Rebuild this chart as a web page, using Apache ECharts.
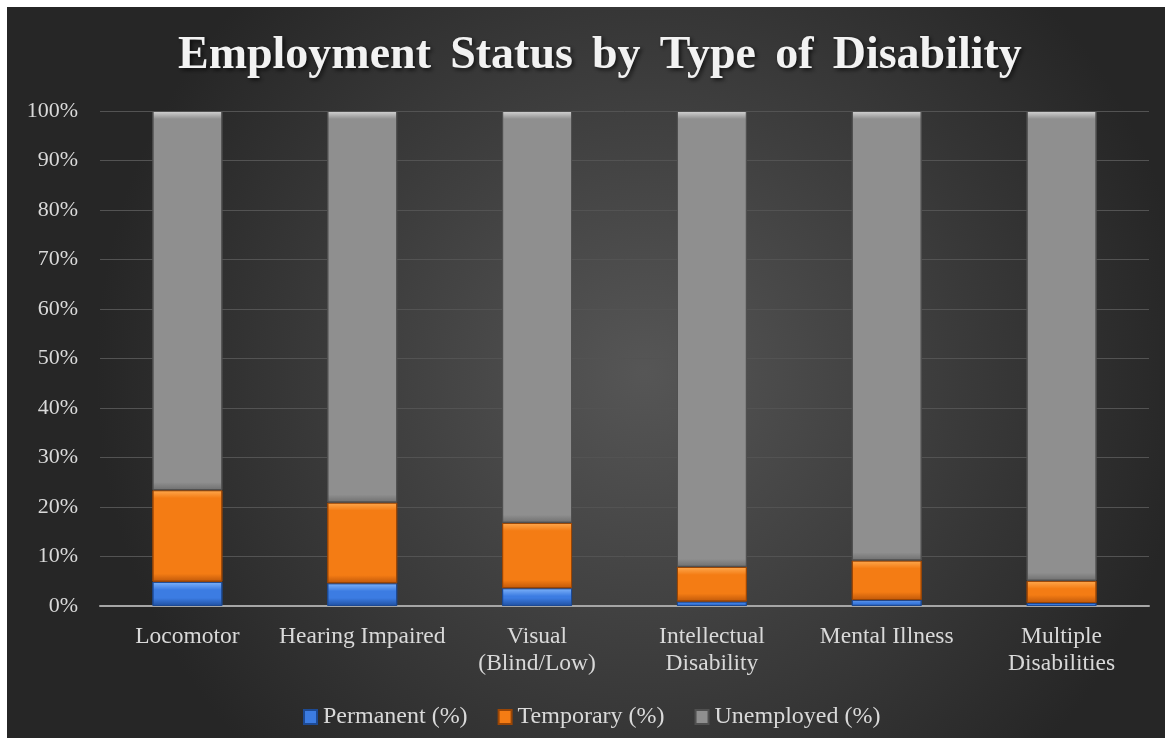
<!DOCTYPE html>
<html lang="en">
<head>
    <meta charset="UTF-8">
    <title>Employment Status by Type of Disability</title>
    <script src="https://cdn.jsdelivr.net/npm/echarts@6.0.0/dist/echarts.min.js"></script>
    <style>
        body {
            margin: 0;
            background: #ffffff;
        }
        #grafica {
            position: absolute;
            left: 7px;
            top: 7px;
            width: 1158px;
            height: 731px;
        }
    </style>
</head>
<body>
    <div id="grafica"></div>
    <script>
        const categorias = ['Locomotor', 'Hearing Impaired', 'Visual\n(Blind/Low)', 'Intellectual\nDisability', 'Mental Illness', 'Multiple\nDisabilities'];
        const permanente = [4.9, 4.6, 3.6, 0.9, 1.2, 0.6];
        const temporal = [18.5, 16.3, 13.2, 7.0, 8.0, 4.5];
        const desempleado = [76.6, 79.1, 83.2, 92.1, 90.8, 94.9];

        const fuente = '"Liberation Serif", "Times New Roman", serif';
        const pxPorPunto = 4.95; // alto del area de trazado / 100

        // relleno con efecto biselado, borde de unos 8 px
        function bisel(valor, claro, medio, oscuro) {
            let alto = Math.max(valor * pxPorPunto, 1);
            let b = Math.min(8 / alto, 0.45);
            return {
                type: 'linear', x: 0, y: 0, x2: 0, y2: 1,
                colorStops: [
                    { offset: 0, color: claro },
                    { offset: b, color: medio },
                    { offset: 1 - b, color: medio },
                    { offset: 1, color: oscuro }
                ]
            };
        }

        function serie(nombre, datos, claro, medio, oscuro, borde) {
            return {
                name: nombre,
                type: 'bar',
                stack: 'total',
                barWidth: '40%',
                itemStyle: { color: medio, borderColor: borde, borderWidth: 1 },
                data: datos.map(v => ({
                    value: v,
                    itemStyle: { color: bisel(v, claro, medio, oscuro) }
                }))
            };
        }

        let myChart = echarts.init(document.getElementById('grafica'));

        let option = {
            backgroundColor: {
                type: 'radial', x: 0.55, y: 0.5, r: 0.75,
                colorStops: [
                    { offset: 0, color: '#565656' },
                    { offset: 1, color: '#262626' }
                ]
            },
            title: {
                text: 'Employment\u2006 Status\u2006 by\u2006 Type\u2006 of\u2006 Disability',
                left: 166,
                top: 21,
                textStyle: {
                    fontFamily: fuente,
                    fontSize: 46,
                    fontWeight: 'bold',
                    color: '#f2f2f2',
                    textShadowColor: 'rgba(0,0,0,0.7)',
                    textShadowBlur: 4,
                    textShadowOffsetX: 2,
                    textShadowOffsetY: 2
                }
            },
            legend: {
                bottom: 4,
                left: 291,
                itemWidth: 13,
                itemHeight: 14,
                itemGap: 30,
                icon: 'rect',
                textStyle: {
                    fontFamily: fuente,
                    fontSize: 24,
                    color: '#d9d9d9',
                    padding: [0, 0, 0, 1]
                }
            },
            grid: {
                left: 93,
                right: 16,
                top: 104,
                bottom: 132
            },
            xAxis: {
                type: 'category',
                data: categorias,
                axisLine: { lineStyle: { color: '#a6a6a6', width: 2 } },
                axisTick: { show: false },
                axisLabel: {
                    fontFamily: fuente,
                    fontSize: 23.5,
                    color: '#d9d9d9',
                    margin: 17,
                    lineHeight: 27,
                    interval: 0
                }
            },
            yAxis: {
                type: 'value',
                min: 0,
                max: 100,
                interval: 10,
                axisLine: { show: false },
                axisTick: { show: false },
                splitLine: { lineStyle: { color: '#535353', width: 1 } },
                axisLabel: {
                    fontFamily: fuente,
                    fontSize: 22,
                    color: '#d9d9d9',
                    margin: 22,
                    formatter: '{value}%'
                }
            },
            series: [
                serie('Permanent (%)', permanente, '#80b4fa', '#3c7ce2', '#1f4fa0', '#1d4a94'),
                serie('Temporary (%)', temporal, '#ffaa50', '#f47c14', '#c0580a', '#9a4606'),
                serie('Unemployed (%)', desempleado, '#d6d6d6', '#8f8f8f', '#6f6f6f', '#505050')
            ]
        };

        myChart.setOption(option);
    </script>
</body>
</html>
